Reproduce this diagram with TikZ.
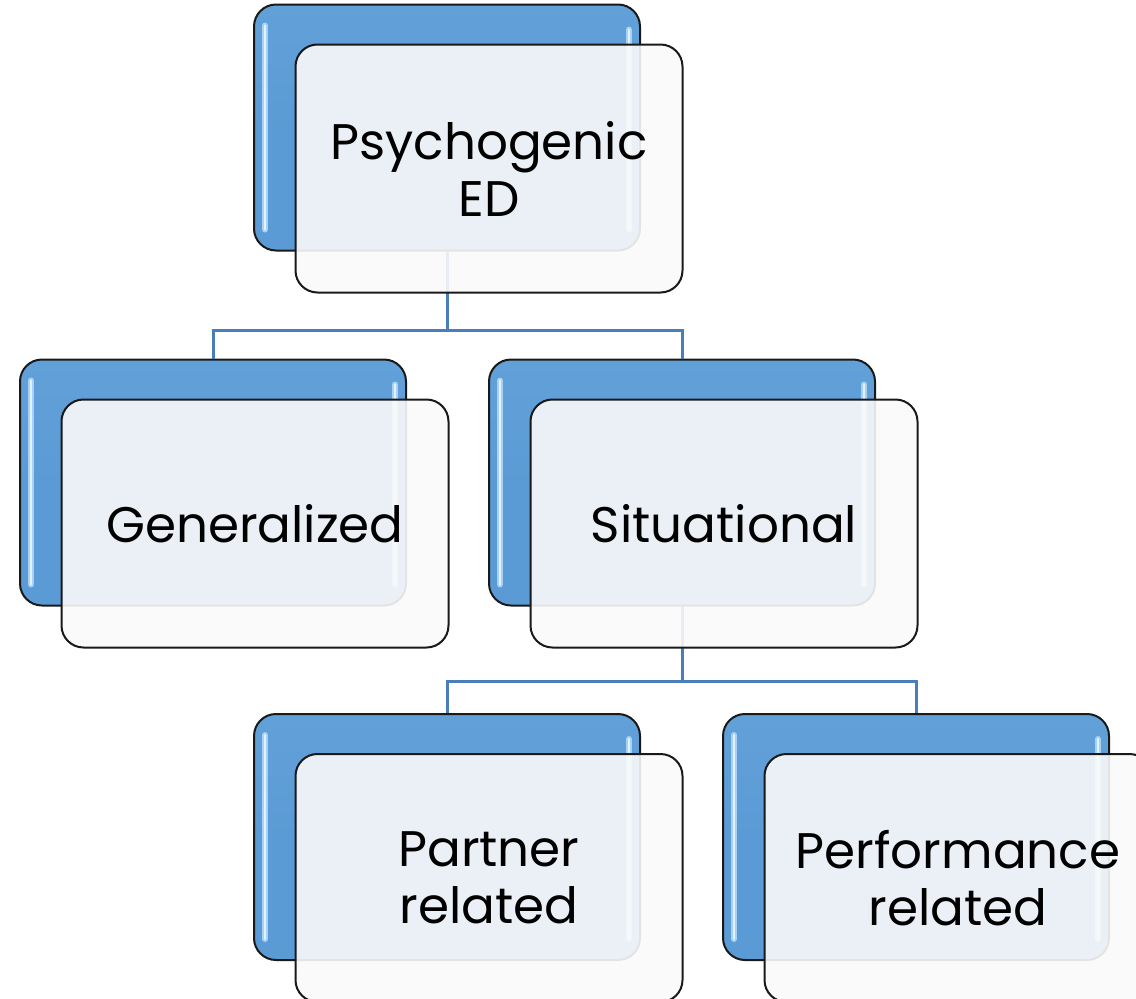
\documentclass[tikz,border=0pt]{standalone}
\usepackage{fontspec}
\setmainfont{Poppins}
\usetikzlibrary{calc}
\definecolor{boxblue}{HTML}{5B9BD5}
\definecolor{boxtop}{HTML}{62A0D8}
\definecolor{linkblue}{HTML}{4A7EBB}
\definecolor{glint}{HTML}{E2F2FF}
\definecolor{glintedge}{HTML}{A8D2F5}
\definecolor{cardfill}{HTML}{FAFAFA}

% back tile with its two glossy edge strips
\newcommand{\backtile}[2]{%
  \node[backbox] (#1) at (#2) {};
  \draw[glintwide] ($(#1.north west)+(12,22)$) -- ($(#1.south west)+(12,-22)$);
  \draw[glintline] ($(#1.north west)+(12,22)$) -- ($(#1.south west)+(12,-22)$);
  \draw[glintwide] ($(#1.north east)+(-12,26)$) -- ($(#1.south east)+(-12,-22)$);
  \draw[glintline] ($(#1.north east)+(-12,26)$) -- ($(#1.south east)+(-12,-22)$);
}
% front card, offset from its back tile, carrying the label
\newcommand{\fronttile}[2]{%
  \node[cardbox] (#1f) at ($(#1)+(42,41)$) {#2};
}

\begin{document}
\begin{tikzpicture}[x=1pt,y=-1pt,
  backbox/.style={rectangle, rounded corners=22pt, minimum width=386pt,
    minimum height=246pt, inner sep=0pt, draw=black!90, line width=2pt,
    top color=boxtop, bottom color=boxblue, middle color=boxblue},
  glintwide/.style={glintedge, line width=6pt, line cap=round},
  glintline/.style={glint, line width=2.5pt, line cap=round},
  cardbox/.style={rectangle, rounded corners=22pt, minimum width=387pt,
    minimum height=248pt, inner sep=0pt, draw=black!90, line width=2pt,
    fill=cardfill, fill opacity=0.9, text opacity=1, align=center,
    font=\fontsize{50}{57}\selectfont},
  link/.style={linkblue, line width=3pt}]

\useasboundingbox (0,0) rectangle (1136,999);

% back tiles
\backtile{psy}{447,127.5}
\backtile{gen}{213,482.5}
\backtile{sit}{682,482.5}
\backtile{par}{447,837}
\backtile{per}{916,837}

% tree connectors
\coordinate (j1) at (447,330);
\coordinate (j2) at (682,681);
\draw[link] (psy.south) -- (j1) -| (gen.north);
\draw[link] (j1) -| (sit.north);
\draw[link] (sit.south) -- (j2) -| (par.north);
\draw[link] (j2) -| (per.north);

% front cards
\fronttile{psy}{Psychogenic\\ED}
\fronttile{gen}{Generalized}
\fronttile{sit}{Situational}
\fronttile{par}{Partner\\related}
\fronttile{per}{Performance\\related}
\end{tikzpicture}
\end{document}
